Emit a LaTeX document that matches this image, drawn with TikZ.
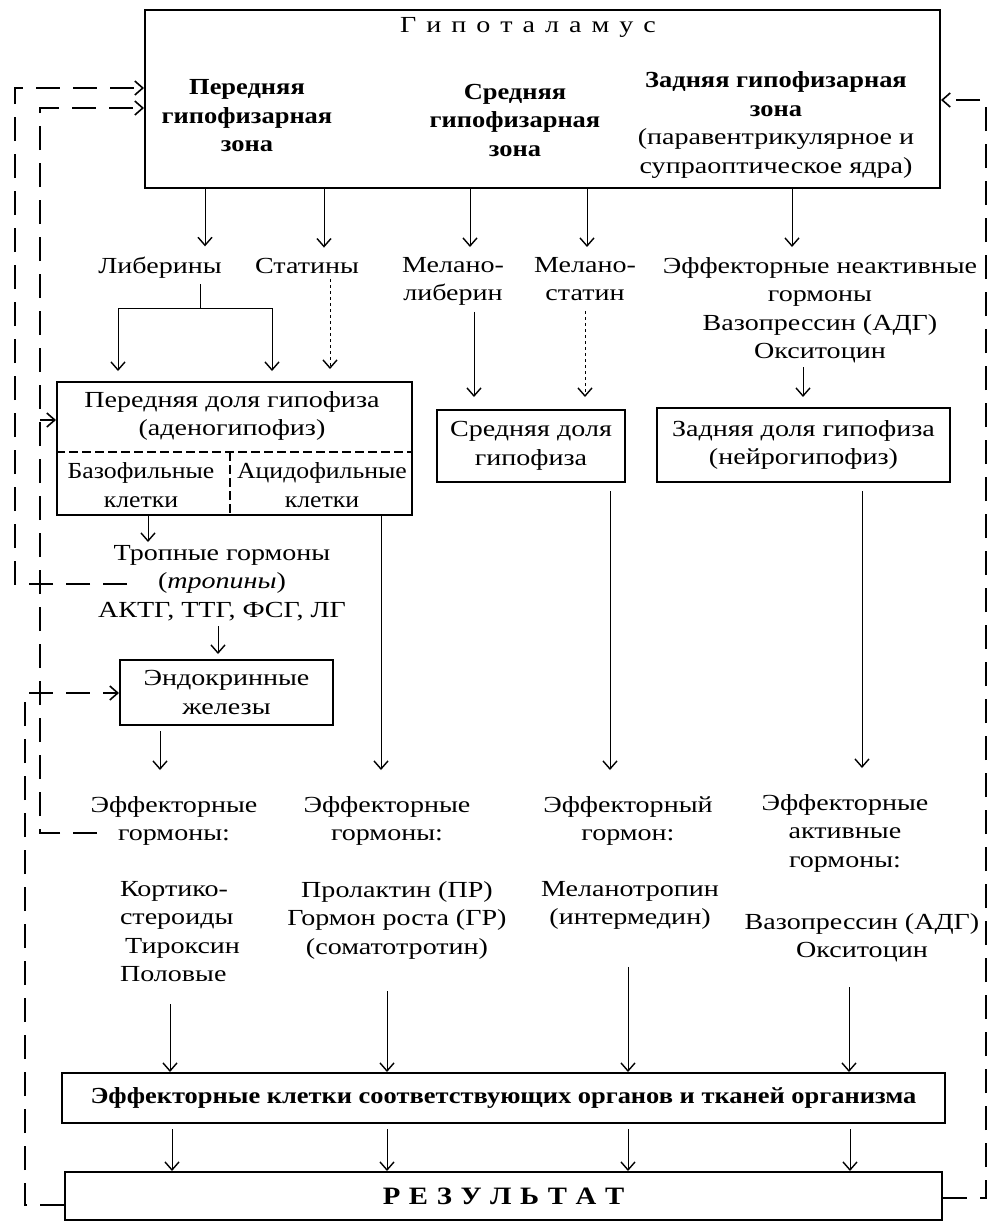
\documentclass[tikz,border=0pt]{standalone}
\usepackage{fontspec}
\setmainfont{Liberation Serif}[FakeStretch=1.22, BoldFeatures={FakeStretch=1.15}, BoldItalicFeatures={FakeStretch=1.15}]
\newfontfamily\narrowserif{Liberation Serif}[FakeStretch=1.12]
\usetikzlibrary{arrows.meta}
\newcommand{\gp}{\hspace{10pt}}
\newcommand{\rp}{\hspace{8.6pt}}
\begin{document}
\begin{tikzpicture}[x=1pt,y=-1pt,
  every node/.style={font=\fontsize{23}{28.5}\selectfont},
  txt/.style={inner sep=0pt, align=center},
  bx/.style={draw, line width=2pt},
  arr/.style={line width=0.9pt, -{Straight Barb[length=8pt,width=14pt,line width=1.4pt]}},
  darr/.style={arr, dash pattern=on 3pt off 3pt},
  fb/.style={line width=2.2pt, dash pattern=on 24pt off 13pt},
  fbarr/.style={fb, -{Straight Barb[length=8pt,width=14pt,line width=1.6pt]}}
]
\useasboundingbox (0,0) rectangle (999,1227);
% Hypothalamus
\node[bx, minimum width=795pt, minimum height=178pt, inner sep=0pt] (hyp) at (542.5,99) {};
\node[txt] (hypt) at (528,27) {Г\gp и\gp п\gp о\gp т\gp а\gp л\gp а\gp м\gp у\gp с};
\node[txt, font=\fontsize{23}{28.5}\selectfont\bfseries] (z1) at (247,116) {Передняя\\гипофизарная\\зона};
\node[txt, font=\fontsize{23}{28.5}\selectfont\bfseries] (z2) at (515,120) {Средняя\\гипофизарная\\зона};
\node[txt] (z3) at (776,125) {\textbf{Задняя гипофизарная}\\\textbf{зона}\\(паравентрикулярное и\\супраоптическое ядра)};
% labels
\node[txt, anchor=base] (lib) at (160,273) {Либерины};
\node[txt, anchor=base] (stat) at (307,273) {Статины};
\node[txt, anchor=north] (mlib) at (453,257) {Мелано-\\либерин};
\node[txt, anchor=north] (mstat) at (585,257) {Мелано-\\статин};
\node[txt, anchor=north] (effin) at (820,257) {Эффекторные неактивные\\гормоны\\Вазопрессин (АДГ)\\Окситоцин};
\foreach \xx/\tg in {205/lib,324/stat,470/mlib,587/mstat,792/effin}
  \draw[arr] (hyp.south -| \xx,0) -- ([yshift=10pt]\tg.north -| \xx,0);
% anterior lobe
\node[bx, minimum width=355pt, minimum height=133pt, inner sep=0pt] (ant) at (234.5,448.5) {};
\node[txt] (antt) at (232,416) {Передняя доля гипофиза\\(аденогипофиз)};
\node[txt, font=\fontsize{23}{28.5}\selectfont\narrowserif] (baso) at (141,485) {Базофильные\\клетки};
\node[txt, font=\fontsize{23}{28.5}\selectfont\narrowserif] (acid) at (322,485) {Ацидофильные\\клетки};
\draw[line width=1.8pt, dash pattern=on 9pt off 4pt] (ant.west |- 0,452) -- (ant.east |- 0,452);
\draw[line width=1.8pt, dash pattern=on 9pt off 4pt] (230,452) -- (ant.south -| 230,0);
% liberins connector
\coordinate (lj) at (200,308);
\draw[line width=0.9pt] ([yshift=-6pt]lib.south -| 200,0) -- (lj);
\draw[arr] (lj) -| ([yshift=10pt]ant.north -| 118,0);
\draw[arr] (lj) -| ([yshift=10pt]ant.north -| 272,0);
\draw[darr] ([yshift=-6pt]stat.south -| 330,0) -- ([yshift=12pt]ant.north -| 330,0);
% middle & posterior lobes
\node[bx, minimum width=188pt, minimum height=72pt, inner sep=0pt] (mid) at (531,446) {};
\node[txt] at (mid) {Средняя доля\\гипофиза};
\node[bx, minimum width=293pt, minimum height=74pt, inner sep=0pt] (post) at (803.5,445) {};
\node[txt] at (post) {Задняя доля гипофиза\\(нейрогипофиз)};
\draw[arr] ([yshift=-6pt]mlib.south -| 474,0) -- ([yshift=12pt]mid.north -| 474,0);
\draw[darr] ([yshift=-10pt]mstat.south -| 585,0) -- ([yshift=12pt]mid.north -| 585,0);
\draw[arr] ([yshift=-4pt]effin.south -| 803,0) -- ([yshift=10pt]post.north -| 803,0);
% tropic hormones
\node[txt] (trop) at (222,583) {Тропные гормоны\\(\textit{тропины})\\АКТГ, ТТГ, ФСГ, ЛГ};
\draw[arr] (ant.south -| 148,0) -- ([yshift=3pt]trop.north -| 148,0);
\node[bx, minimum width=213pt, minimum height=65pt, inner sep=0pt] (endo) at (226.5,692.5) {};
\node[txt] at (endo) {Эндокринные\\железы};
\draw[arr] ([yshift=-5pt]trop.south -| 218,0) -- ([yshift=5pt]endo.north -| 218,0);
% effector hormones
\node[txt, anchor=north] (e1) at (174,796) {Эффекторные\\гормоны:};
\node[txt, anchor=north] (e2) at (387,796) {Эффекторные\\гормоны:};
\node[txt, anchor=north] (e3) at (628,796) {Эффекторный\\гормон:};
\node[txt, anchor=north] (e4) at (845,794) {Эффекторные\\активные\\гормоны:};
\draw[arr] ([yshift=-5pt]endo.south -| 160,0) -- ([yshift=26pt]e1.north -| 160,0);
\draw[arr] (ant.south -| 381,0) -- ([yshift=26pt]e2.north -| 381,0);
\draw[arr] ([yshift=-8pt]mid.south -| 610,0) -- ([yshift=26pt]e3.north -| 610,0);
\draw[arr] ([yshift=-8pt]post.south -| 862,0) -- ([yshift=26pt]e4.north -| 862,0);
% hormones
\node[txt, align=left, anchor=north] (h1) at (180,881) {Кортико-\\стероиды\\\hspace{5pt}Тироксин\\Половые};
\node[txt, anchor=north] (h2) at (397,881) {Пролактин (ПР)\\Гормон роста (ГР)\\(соматотротин)};
\node[txt, anchor=north] (h3) at (630,881) {Меланотропин\\(интермедин)};
\node[txt, anchor=north] (h4) at (862,913) {Вазопрессин (АДГ)\\Окситоцин};
% cells box
\node[bx, minimum width=883pt, minimum height=50pt, inner sep=0pt, font=\fontsize{23}{28.5}\selectfont\bfseries] (cells) at (503.5,1098) {Эффекторные клетки соответствующих органов и тканей организма};
\draw[arr] ([yshift=-22pt]h1.south -| 170,0) -- (cells.north -| 170,0);
\draw[arr] ([yshift=-32pt]h2.south -| 387,0) -- (cells.north -| 387,0);
\draw[arr] ([yshift=-37pt]h3.south -| 628,0) -- (cells.north -| 628,0);
\draw[arr] ([yshift=-25pt]h4.south -| 849,0) -- (cells.north -| 849,0);
% result
\node[bx, minimum width=877pt, minimum height=48pt, inner sep=0pt, font=\fontsize{25}{30}\selectfont\bfseries] (res) at (503.5,1196) {Р\rp Е\rp З\rp У\rp Л\rp Ь\rp Т\rp А\rp Т};
\foreach \xx in {172,387,628,850}
  \draw[arr] ([yshift=-5pt]cells.south -| \xx,0) -- (res.north -| \xx,0);
% feedback lines
\coordinate (f1s) at (127,584);
\draw[fbarr] (f1s) -- (15,584) -- (15,88) -- (hyp.west |- 0,88);
\coordinate (f2s) at (97,833);
\coordinate (f2b) at (40,420);
\draw[fbarr] (f2s) -- (40,833) -- (40,108) -- (hyp.west |- 0,108);
\draw[fbarr] (f2b) -- (ant.west |- f2b);
\draw[fbarr] (res.west |- 0,1205) -- (25,1205) -- (25,693) -- (endo.west |- 0,693);
\draw[fbarr] (res.east |- 0,1198) -- (986,1198) -- (986,100) -- (hyp.east |- 0,100);
\end{tikzpicture}
\end{document}
